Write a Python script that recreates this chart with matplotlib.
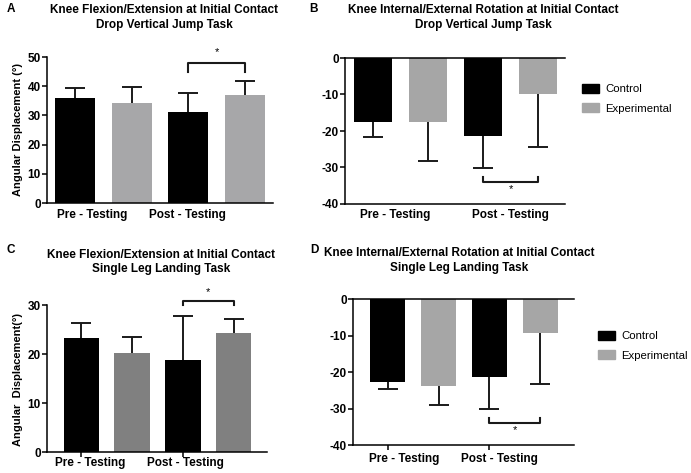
import numpy as np
import matplotlib.pyplot as plt
from matplotlib.patches import Patch

plt.rcParams['font.family'] = ['Liberation Sans', 'DejaVu Sans']

W, H = 691, 473

groups = ['Pre - Testing', 'Post - Testing']
series = ['Control', 'Experimental']

# bar order: pre control, pre exp, post control, post exp
a_mean = [36.1, 34.3, 31.3, 37.0]
a_sd = [3.3, 5.4, 6.5, 4.9]
b_mean = [-17.5, -17.5, -21.5, -9.9]
b_sd = [4.2, 10.6, 8.7, 14.4]
c_mean = [23.2, 20.3, 18.7, 24.3]
c_sd = [3.1, 3.2, 9.1, 2.9]
d_mean = [-22.7, -23.7, -21.3, -9.3]
d_sd = [1.9, 5.3, 8.8, 14.0]

# significance bracket: (bar i, bar j, bracket y, end y, star y)
a_sig = (2, 3, 47.8, 44.8, 51.6)
b_sig = (2, 3, -33.9, -32.5, -35.8)
c_sig = (2, 3, 30.9, 30.0, 32.6)
d_sig = (2, 3, -33.9, -32.7, -35.8)

titles = {
    'A': 'Knee Flexion/Extension at Initial Contact\nDrop Vertical Jump Task',
    'B': 'Knee Internal/External Rotation at Initial Contact\nDrop Vertical Jump Task',
    'C': 'Knee Flexion/Extension at Initial Contact\nSingle Leg Landing Task',
    'D': 'Knee Internal/External Rotation at Initial Contact\nSingle Leg Landing Task',
}


def rect(l, t, r, b):
    return [l / W, 1 - b / H, (r - l) / W, (b - t) / H]


def fx(px):
    return px / W


def fy(py):
    return 1 - py / H


fig = plt.figure(figsize=(W / 100, H / 100), dpi=100)


def panel(box, means, sd, grey, ylim, yticks, xlim, width, sig, lab_x, lab_dy,
          top_spine=False, xticks=False):
    ax = fig.add_axes(box)
    x = np.arange(4)
    cols = ['black', grey, 'black', grey]
    bars = ax.bar(x, means, width=width, color=cols, zorder=2)
    # symmetric bars drawn beneath, so only the outer half shows
    ax.errorbar(x, means, yerr=sd, fmt='none', ecolor='#1a1a1a',
                elinewidth=1.4, capsize=7, capthick=1.4, zorder=1)
    ax.set_xlim(xlim)
    ax.set_ylim(ylim)
    ax.set_yticks(yticks)
    ax.set_yticklabels([str(t) for t in yticks], fontweight='bold', fontsize=8.5)
    ax.tick_params(axis='y', length=3.5, width=1.1, pad=1)
    if xticks:
        ax.set_xticks([0, 2])
        ax.set_xticklabels([])
        ax.tick_params(axis='x', length=3.5, width=1.1)
    else:
        ax.set_xticks([])
    ax.spines['right'].set_visible(False)
    ax.spines['top'].set_visible(top_spine)
    for s in ['left', 'bottom', 'top']:
        ax.spines[s].set_linewidth(1.1)
        ax.spines[s].set_zorder(3)
    for g, lx in zip(groups, lab_x):
        ax.text(lx, lab_dy, g, transform=ax.get_xaxis_transform(), ha='center',
                va='center', fontsize=8.5, fontweight='bold')
    i, j, yb, ye, ys = sig
    ax.plot([i, i, j, j], [ye, yb, yb, ye], color='#1a1a1a', lw=1.5, clip_on=False)
    ax.text((i + j) / 2, ys, '*', ha='center', va='center', fontsize=8, clip_on=False)
    return ax, bars


axA, barsA = panel(rect(47, 57, 273, 203), a_mean, a_sd, '#a7a7a9', (0, 50),
                   [0, 10, 20, 30, 40, 50], (-0.5, 3.5), 0.7, a_sig,
                   [0.3, 1.98], -0.085)
axB, barsB = panel(rect(345, 58, 565, 204), b_mean, b_sd, '#a6a6a6', (-40, 0),
                   [-40, -30, -20, -10, 0], (-0.51, 3.49), 0.69, b_sig,
                   [0.4, 2.5], -0.075, top_spine=True)
axC, barsC = panel(rect(47, 305, 267, 452), c_mean, c_sd, '#808080', (0, 30),
                   [0, 10, 20, 30], (-0.67, 3.65), 0.69, c_sig,
                   [0.18, 2.04], -0.075, xticks=True)
axD, barsD = panel(rect(353, 299, 574, 445), d_mean, d_sd, '#a6a6a6', (-40, 0),
                   [-40, -30, -20, -10, 0], (-0.69, 3.67), 0.69, d_sig,
                   [0.32, 2.2], -0.096, top_spine=True, xticks=True)

# titles and panel letters
for key, cx, cy in [('A', 164, 17.5), ('B', 483, 17.5), ('C', 161, 262), ('D', 459, 260.5)]:
    fig.text(fx(cx), fy(cy), titles[key], ha='center', va='center', fontsize=8.5,
             fontweight='bold', linespacing=1.3)
for key, px, py in [('A', 11, 9), ('B', 314, 9), ('C', 11, 250), ('D', 314, 250)]:
    fig.text(fx(px), fy(py), key, ha='center', va='center', fontsize=8.5, fontweight='bold')

fig.text(fx(18), fy(130), 'Angular Displacement (°)', rotation=90, ha='center',
         va='center', fontsize=8, fontweight='bold')
fig.text(fx(18), fy(379), 'Angular  Displacement(°)', rotation=90, ha='center',
         va='center', fontsize=8, fontweight='bold')

# legends
for ax, grey, lx, ly in [(axB, '#a6a6a6', 582, 84), (axD, '#a6a6a6', 598, 331)]:
    handles = [Patch(color='black'), Patch(color=grey)]
    ax.legend(handles, series, loc='upper left', bbox_to_anchor=(fx(lx), fy(ly)),
              bbox_transform=fig.transFigure, frameon=False, fontsize=8.2,
              handlelength=1.45, handleheight=0.85, handletextpad=0.6,
              labelspacing=0.75, borderpad=0, borderaxespad=0)

fig.savefig('out.png', dpi=100)
